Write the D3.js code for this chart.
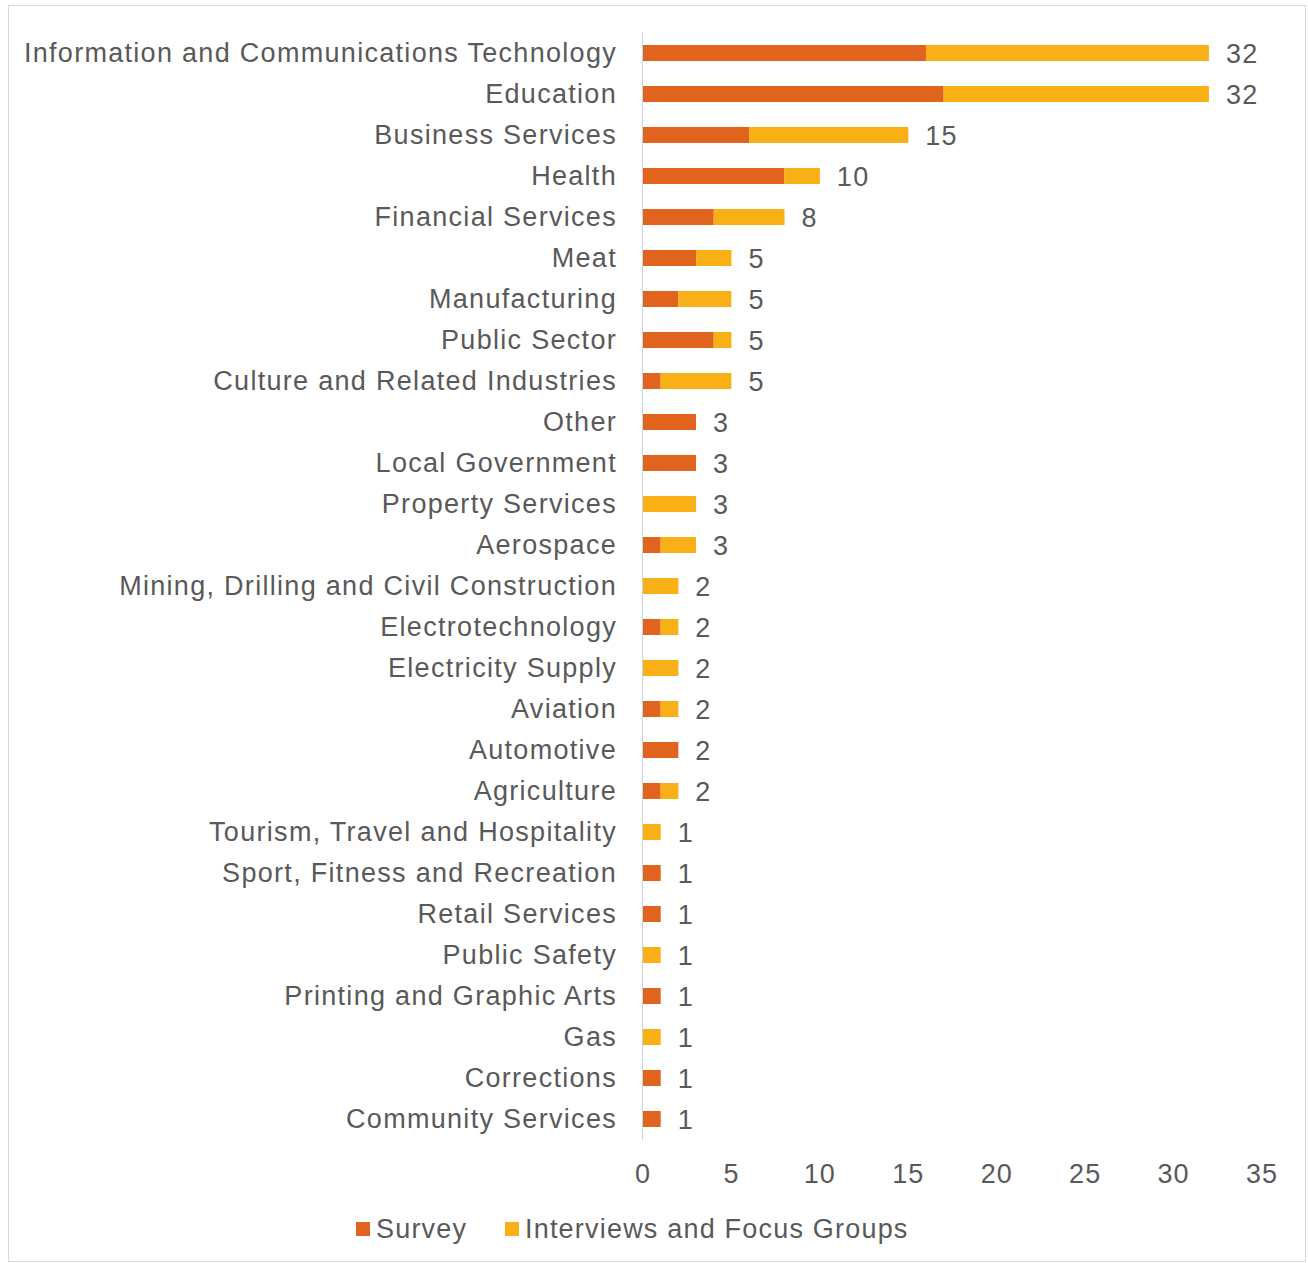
<!DOCTYPE html>
<html>
<head>
<meta charset="utf-8">
<script src="https://cdn.jsdelivr.net/npm/d3@7"></script>
<style>
  body { margin: 0; background: #fff; }
  text { font-family: "Liberation Sans", Arial, sans-serif; fill: #595959; }
</style>
</head>
<body>
<svg id="chart" width="1308" height="1263"></svg>
<script>
// sectors, top to bottom
const sectors = [
    "Information and Communications Technology", "Education", "Business Services",
    "Health", "Financial Services", "Meat", "Manufacturing", "Public Sector",
    "Culture and Related Industries", "Other", "Local Government", "Property Services",
    "Aerospace", "Mining, Drilling and Civil Construction", "Electrotechnology",
    "Electricity Supply", "Aviation", "Automotive", "Agriculture",
    "Tourism, Travel and Hospitality", "Sport, Fitness and Recreation", "Retail Services",
    "Public Safety", "Printing and Graphic Arts", "Gas", "Corrections", "Community Services"
];
const survey     = [16, 17, 6, 8, 4, 3, 2, 4, 1, 3, 3, 0, 1, 0, 1, 0, 1, 2, 1, 0, 1, 1, 0, 1, 0, 1, 1];
const interviews = [16, 15, 9, 2, 4, 2, 3, 1, 4, 0, 0, 3, 2, 2, 1, 2, 1, 0, 1, 1, 0, 0, 1, 0, 1, 0, 0];
const xTicks = [0, 5, 10, 15, 20, 25, 30, 35];
const seriesNames = ["Survey", "Interviews and Focus Groups"];
const seriesColors = ["#E0641E", "#F8B016"];

const svg = d3.select('#chart');

// outer frame
svg.append('rect')
    .attr('x', 8.5).attr('y', 5.5)
    .attr('width', 1297).attr('height', 1256)
    .attr('fill', 'none').attr('stroke', '#d9d9d9');

const x = d3.scaleLinear().domain([0, 35]).range([643, 1262]);
const y = d3.scaleBand().domain(sectors).range([32.5, 1139.5]).paddingInner(0.61).paddingOuter(0.305);

const rows = sectors.map((s, i) => ({ name: s, s: survey[i], iv: interviews[i] }));

// survey part
svg.append('g').selectAll('rect').data(rows).join('rect')
    .attr('x', x(0))
    .attr('y', d => y(d.name))
    .attr('width', d => x(d.s) - x(0))
    .attr('height', y.bandwidth())
    .attr('fill', seriesColors[0]);

// interviews part, stacked after survey
svg.append('g').selectAll('rect').data(rows).join('rect')
    .attr('x', d => x(d.s))
    .attr('y', d => y(d.name))
    .attr('width', d => x(d.s + d.iv) - x(d.s))
    .attr('height', y.bandwidth())
    .attr('fill', seriesColors[1]);

// axis line
svg.append('line')
    .attr('x1', x(0) - 0.5).attr('x2', x(0) - 0.5)
    .attr('y1', 32).attr('y2', 1140)
    .attr('stroke', '#c8d4e0').attr('stroke-width', 1);

// category labels
svg.append('g').selectAll('text').data(sectors).join('text')
    .attr('x', 617)
    .attr('y', d => y(d) + y.bandwidth() / 2)
    .attr('dy', '0.35em')
    .attr('text-anchor', 'end')
    .attr('font-size', 27)
    .attr('letter-spacing', '1.3px')
    .text(d => d);

// totals
svg.append('g').selectAll('text').data(rows).join('text')
    .attr('x', d => x(d.s + d.iv) + 17)
    .attr('y', d => y(d.name) + y.bandwidth() / 2)
    .attr('dy', '0.38em')
    .attr('font-size', 27)
    .attr('letter-spacing', '1.3px')
    .text(d => d.s + d.iv);

// x tick labels
svg.append('g').selectAll('text').data(xTicks).join('text')
    .attr('x', d => x(d))
    .attr('y', 1174)
    .attr('dy', '0.35em')
    .attr('text-anchor', 'middle')
    .attr('font-size', 27)
    .attr('letter-spacing', '1px')
    .text(d => d);

// legend
const legendX = [356, 505];
const leg = svg.append('g').selectAll('g').data(seriesNames).join('g')
    .attr('transform', (d, i) => `translate(${legendX[i]},1229)`);
leg.append('rect')
    .attr('x', 0).attr('y', -7)
    .attr('width', 14).attr('height', 14)
    .attr('fill', (d, i) => seriesColors[i]);
leg.append('text')
    .attr('x', 20).attr('y', 0)
    .attr('dy', '0.35em')
    .attr('font-size', 27)
    .attr('letter-spacing', '1.2px')
    .text(d => d);
</script>
</body>
</html>
